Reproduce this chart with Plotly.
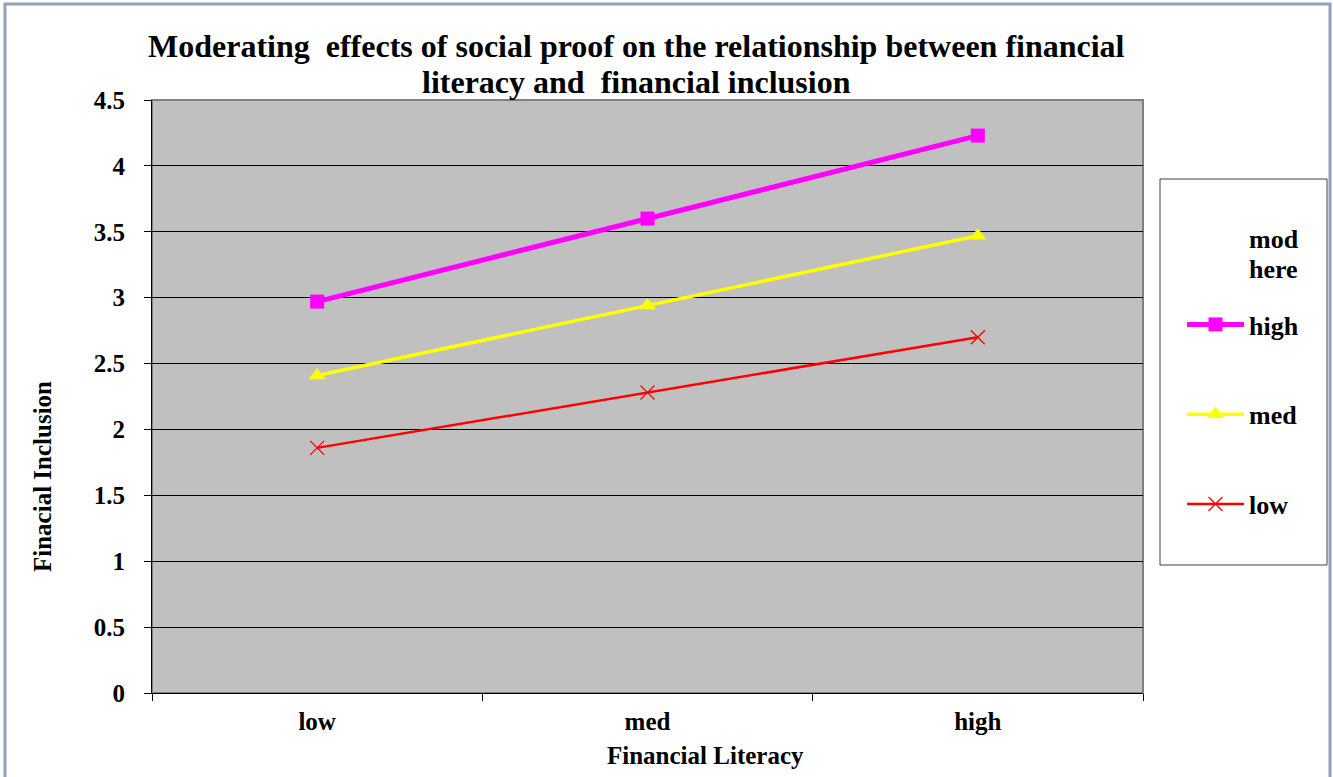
import plotly.graph_objects as go

# Financial literacy levels (x) and financial inclusion by social-proof moderator level
categories = ["low", "med", "high"]
series_names = ["high", "med", "low"]
high_values = [2.97, 3.60, 4.23]
med_values = [2.41, 2.94, 3.47]
low_values = [1.86, 2.28, 2.70]
y_ticks = [0, 0.5, 1, 1.5, 2, 2.5, 3, 3.5, 4, 4.5]

FONT = "Liberation Serif"
W, H = 1333, 777
L, R, T, B = 152, 1143, 100, 693  # plot area in pixels


def px_x(p):
    return (p - L) / (R - L)


def px_y(p):
    return (B - p) / (B - T)


styles = {
    "high": dict(color="#FF00FF", width=5, symbol="square", size=14, mline=0),
    "med": dict(color="#FFFF00", width=3.5, symbol="triangle-up", size=15, mline=0),
    "low": dict(color="#FF0000", width=2.5, symbol="x-thin-open", size=14, mline=1.3),
}
values = {"high": high_values, "med": med_values, "low": low_values}

fig = go.Figure()
for name in series_names:
    s = styles[name]
    fig.add_trace(go.Scatter(
        x=categories, y=values[name], name=name, mode="lines+markers",
        legendgroup=name,
        line=dict(color=s["color"], width=s["width"]),
        marker=dict(symbol=s["symbol"], size=s["size"], color=s["color"],
                    line=dict(color=s["color"], width=s["mline"])),
    ))

fig.update_layout(
    width=W, height=H, autosize=False,
    margin=dict(l=L, r=W - R, t=T, b=H - B, pad=0),
    paper_bgcolor="white", plot_bgcolor="#C0C0C0",
    font=dict(family=FONT, size=25, color="black", weight="bold"),
    showlegend=True,
    legend=dict(
        x=px_x(1182), y=px_y(301), xanchor="left", yanchor="top",
        bgcolor="rgba(0,0,0,0)", borderwidth=0,
        font=dict(family=FONT, size=26, color="black", weight="bold"),
        tracegroupgap=53, itemwidth=57, itemclick=False,
    ),
    xaxis=dict(
        type="category", range=[-0.5, 2.5], tickson="boundaries",
        ticks="outside", ticklen=7, tickcolor="black", tickwidth=1,
        showline=True, linecolor="black", linewidth=1, mirror=False,
        showgrid=False, zeroline=False,
        tickfont=dict(family=FONT, size=25, color="black", weight="bold"),
        ticklabelstandoff=6,
    ),
    yaxis=dict(
        range=[0, 4.5], tickvals=y_ticks, ticks="outside", ticklen=7,
        tickcolor="black", tickwidth=1,
        showline=True, linecolor="black", linewidth=1,
        showgrid=True, gridcolor="black", gridwidth=1, zeroline=False,
        tickfont=dict(family=FONT, size=25, color="black", weight="bold"),
        ticklabelstandoff=14,
    ),
)

shapes = [
    # plot-area frame
    dict(type="rect", xref="paper", yref="paper", x0=0, x1=1, y0=0, y1=1,
         line=dict(color="#808080", width=2), fillcolor="rgba(0,0,0,0)", layer="below"),
    # legend box
    dict(type="rect", xref="paper", yref="paper",
         x0=px_x(1160), x1=px_x(1327), y0=px_y(565), y1=px_y(179),
         line=dict(color="#404040", width=1), fillcolor="white", layer="below"),
    # outer chart border
    dict(type="rect", xref="paper", yref="paper",
         x0=px_x(5), x1=px_x(1330), y0=px_y(790), y1=px_y(4),
         line=dict(color="#8EA2BE", width=3), fillcolor="rgba(0,0,0,0)", layer="below"),
]
fig.update_layout(shapes=shapes)

title_font = dict(family=FONT, size=32, color="black", weight="bold")
label_font = dict(family=FONT, size=25, color="black", weight="bold")
legend_font = dict(family=FONT, size=26, color="black", weight="bold")
annotations = [
    dict(text="Moderating \u00a0effects of social proof on the relationship between financial",
         x=px_x(636), y=px_y(46), font=title_font),
    dict(text="literacy and \u00a0financial inclusion",
         x=px_x(636), y=px_y(82), font=title_font),
    dict(text="Financial Literacy", x=px_x(705), y=px_y(755), font=label_font),
    dict(text="Finacial Inclusion", x=px_x(43), y=px_y(477), font=label_font,
         textangle=-90),
    dict(text="mod", x=px_x(1247), y=px_y(239), font=legend_font, xanchor="left"),
    dict(text="here", x=px_x(1247), y=px_y(269), font=legend_font, xanchor="left"),
]
for a in annotations:
    a.setdefault("xanchor", "center")
    a.update(xref="paper", yref="paper", yanchor="middle", showarrow=False)
fig.update_layout(annotations=annotations)

fig.write_html("out.html")
